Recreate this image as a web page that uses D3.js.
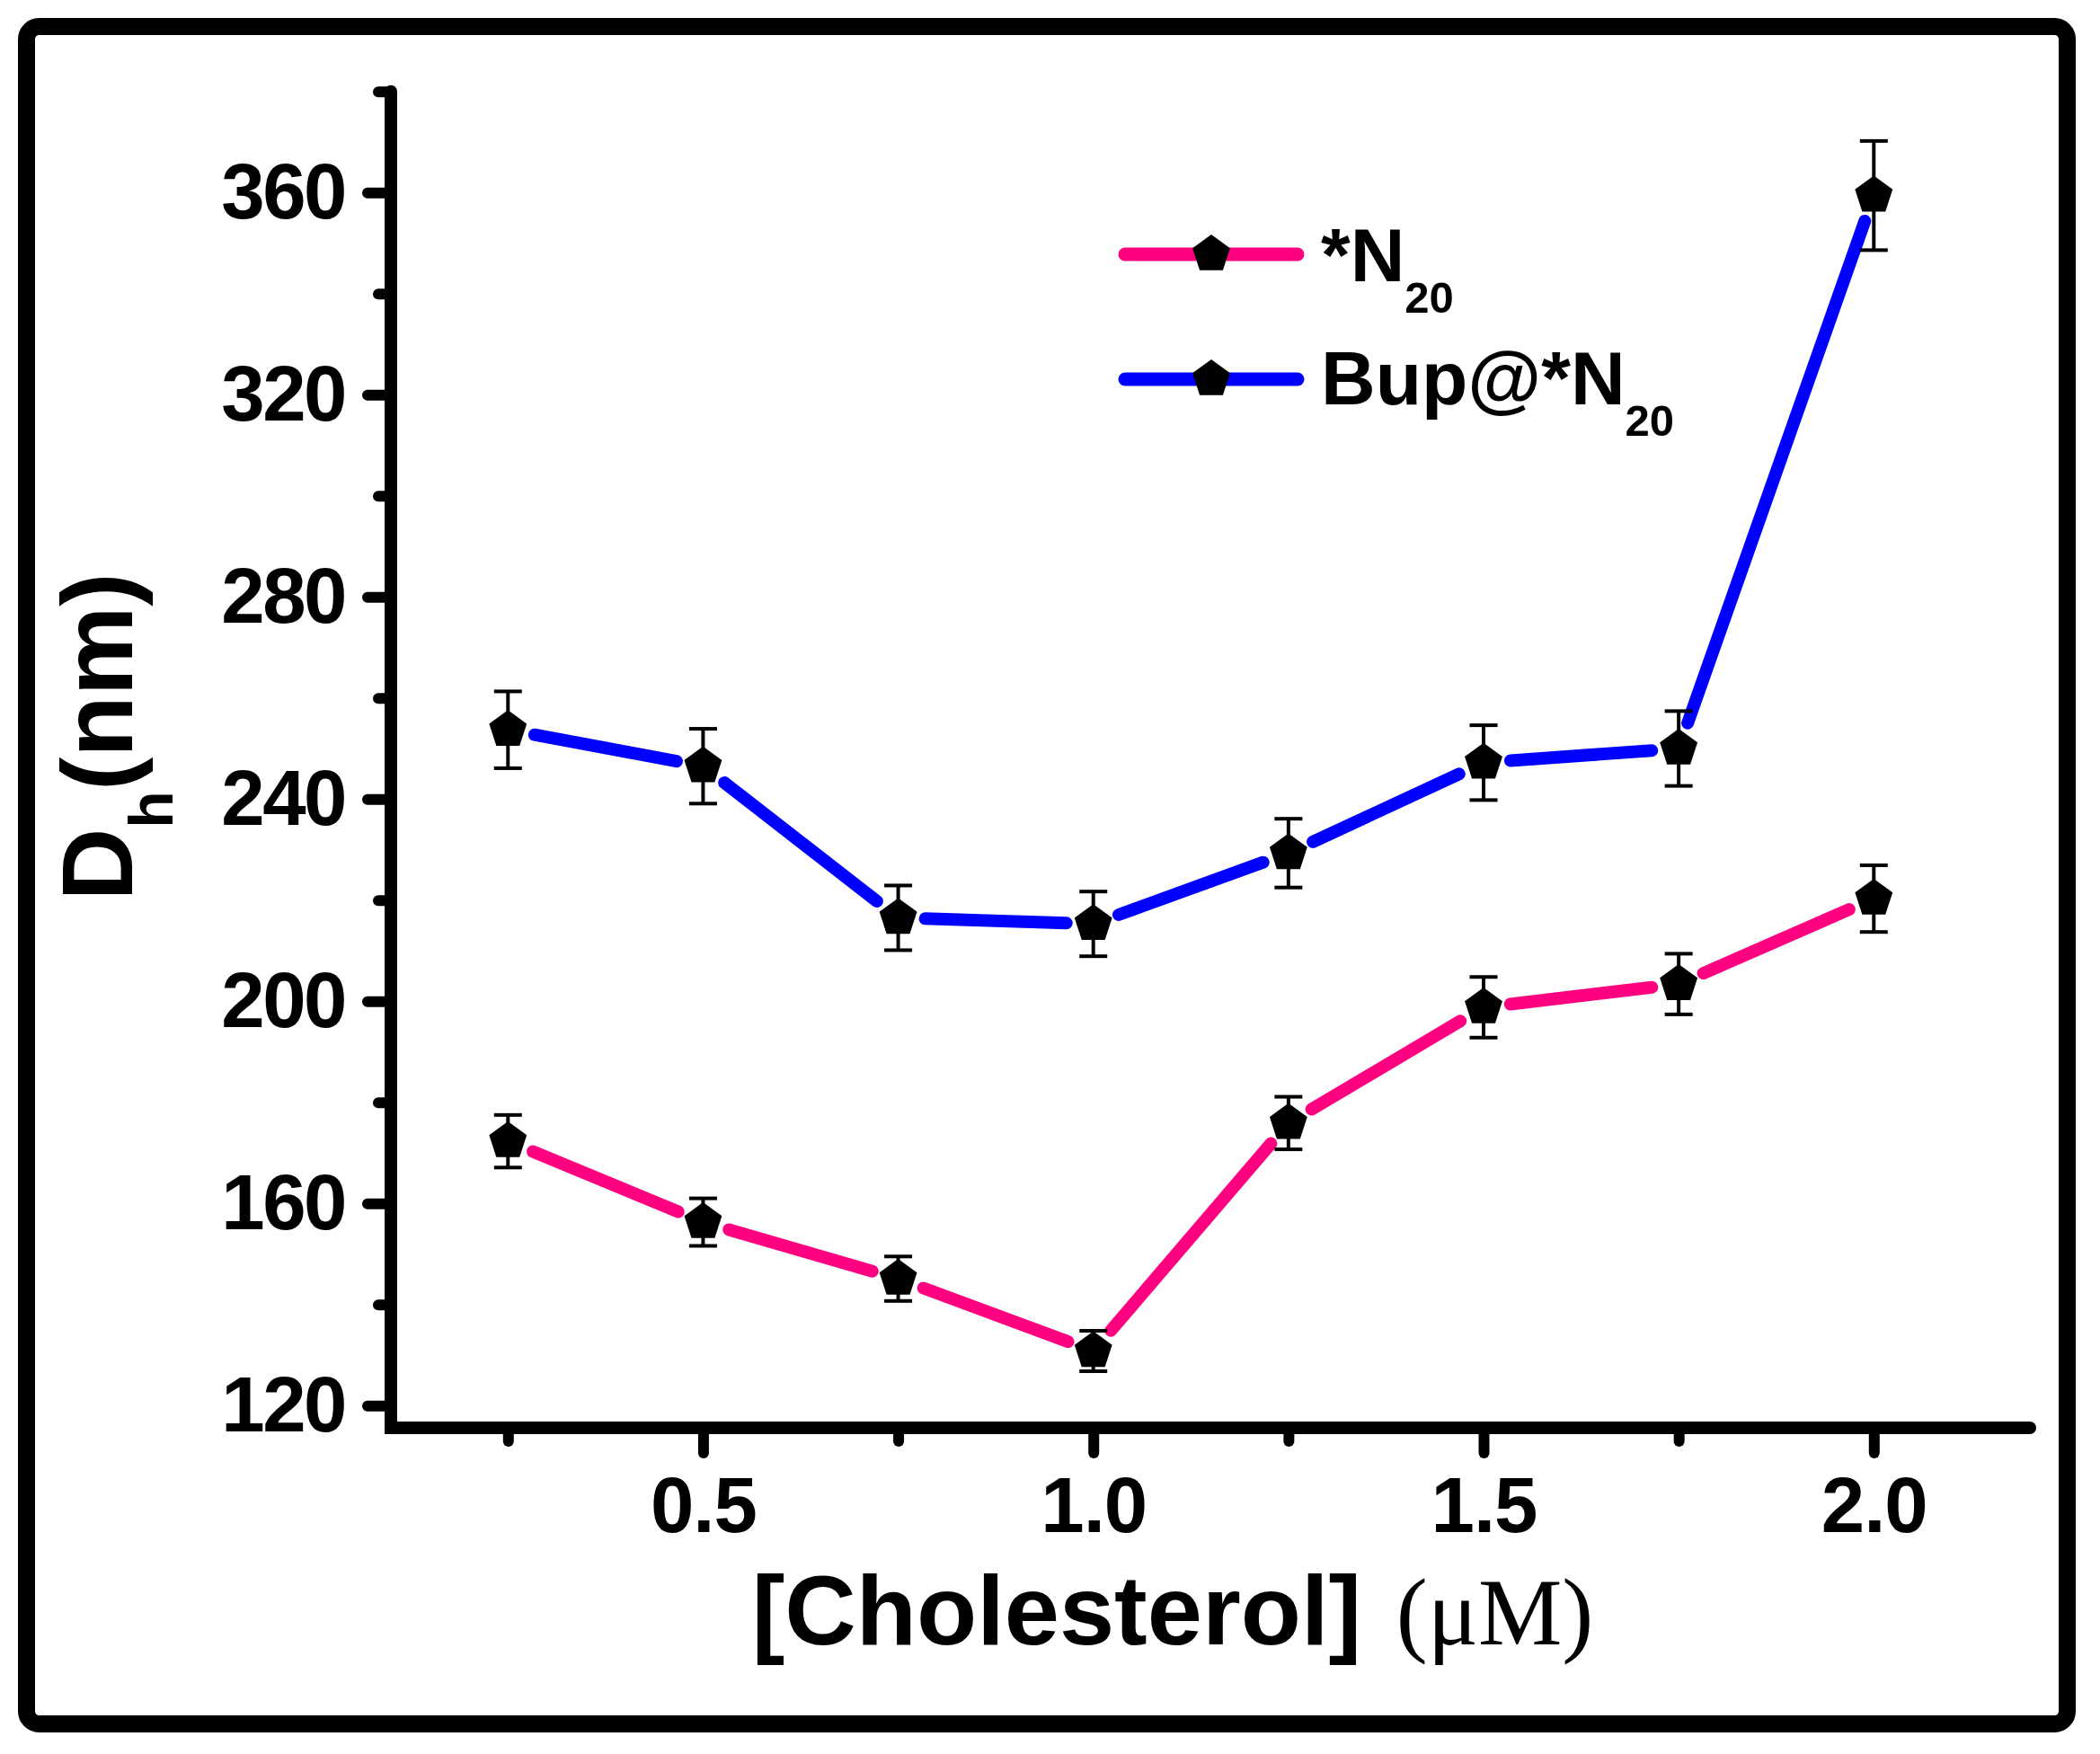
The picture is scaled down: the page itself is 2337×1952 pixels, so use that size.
<!DOCTYPE html>
<html>
<head>
<meta charset="utf-8">
<script src="https://cdn.jsdelivr.net/npm/d3@7"></script>
<style>
  body { margin: 0; background: #fff; }
  text { font-family: "Liberation Sans", Arial, sans-serif; font-weight: bold; fill: #000; }
</style>
</head>
<body>
<script>
// data
const conc = [0.25, 0.5, 0.75, 1.0, 1.25, 1.5, 1.75, 2.0];
const n20 = [172.3, 156.3, 145.1, 130.8, 175.9, 198.8, 203.4, 220.3];
const n20Err = [5.2, 4.7, 4.4, 4.0, 5.2, 6.0, 6.0, 6.6];
const bupN20 = [253.7, 246.5, 216.5, 215.3, 229.3, 247.2, 250.0, 359.4];
const bupN20Err = [7.6, 7.4, 6.4, 6.4, 6.8, 7.4, 7.4, 10.8];

const xMajor = [0.5, 1.0, 1.5, 2.0];
const xMinor = [0.25, 0.75, 1.25, 1.75];
const yMajor = [120, 160, 200, 240, 280, 320, 360];
const yMinor = [140, 180, 220, 260, 300, 340, 380];

const series = [
  {name: '*N', sub: '20', values: n20, err: n20Err, color: '#ff0080'},
  {name: 'Bup@*N', sub: '20', values: bupN20, err: bupN20Err, color: '#0000ff'}
];

const W = 2337, H = 1952;

const svg = d3.select('body')
  .append('svg')
    .attr('width', W)
    .attr('height', H);

svg.append('rect').attr('width', W).attr('height', H).attr('fill', '#fff');

// outer frame
svg.append('rect')
  .attr('x', 29.5).attr('y', 29.5)
  .attr('width', 2271).attr('height', 1889)
  .attr('rx', 14)
  .attr('fill', 'none')
  .attr('stroke', '#000')
  .attr('stroke-width', 19);

// scales
const x = d3.scaleLinear().domain([0.1, 2.2]).range([435, 2259]);
const y = d3.scaleLinear().domain([115.6, 380]).range([1589, 101.75]);

// pentagon marker as a d3 symbol type
const pentagon = {
  draw(context, size) {
    const r = Math.sqrt(size / 2.3776);
    for (let i = 0; i < 5; i++) {
      const a = -Math.PI / 2 + i * 2 * Math.PI / 5;
      const px = r * Math.cos(a), py = r * Math.sin(a);
      if (i) context.lineTo(px, py); else context.moveTo(px, py);
    }
    context.closePath();
  }
};
const marker = d3.symbol().type(pentagon).size(1151);

// axes
const x0 = x.range()[0], y0 = y.range()[0];

function styleAxis(g, size, spacing) {
  g.select('.domain').remove();
  g.selectAll('.tick line')
    .attr('stroke', '#000')
    .attr('stroke-width', 12)
    .attr('stroke-linecap', 'round');
  g.selectAll('.tick text')
    .attr('font-size', size)
    .attr('font-family', null)
    .attr('letter-spacing', spacing);
}

svg.append('g')
  .attr('transform', 'translate(' + x0 + ',0)')
  .call(d3.axisLeft(y).tickValues(yMinor).tickSize(14).tickFormat(''))
  .call(g => styleAxis(g, 87, 0));

svg.append('g')
  .attr('transform', 'translate(' + x0 + ',0)')
  .call(d3.axisLeft(y).tickValues(yMajor).tickSize(26).tickPadding(25).tickFormat(d3.format('d')))
  .call(g => styleAxis(g, 87, -2.5));

svg.append('g')
  .attr('transform', 'translate(0,' + y0 + ')')
  .call(d3.axisBottom(x).tickValues(xMinor).tickSize(15).tickFormat(''))
  .call(g => styleAxis(g, 87, 0));

svg.append('g')
  .attr('transform', 'translate(0,' + y0 + ')')
  .call(d3.axisBottom(x).tickValues(xMajor).tickSize(28).tickPadding(26).tickFormat(d3.format('.1f')))
  .call(g => styleAxis(g, 87, -1));

// axis lines
svg.append('path')
  .attr('d', 'M' + x0 + ',' + y(380) + 'V' + y0 + 'H' + x(2.2))
  .attr('fill', 'none')
  .attr('stroke', '#000')
  .attr('stroke-width', 14)
  .attr('stroke-linecap', 'round')
  .attr('stroke-linejoin', 'miter');

// data
const gap = 30;
const plot = svg.append('g').attr('class', 'plot');

series.forEach(s => {
  const pts = conc.map((c, i) => [x(c), y(s.values[i])]);

  // line segments stop short of the markers
  const segs = d3.pairs(pts).map(([a, b]) => {
    const dx = b[0] - a[0], dy = b[1] - a[1];
    const len = Math.hypot(dx, dy);
    const ux = dx / len, uy = dy / len;
    return [a[0] + ux * gap, a[1] + uy * gap, b[0] - ux * gap, b[1] - uy * gap];
  });

  plot.append('g').selectAll('line')
    .data(segs)
    .enter().append('line')
      .attr('x1', d => d[0]).attr('y1', d => d[1])
      .attr('x2', d => d[2]).attr('y2', d => d[3])
      .attr('stroke', s.color)
      .attr('stroke-width', 14)
      .attr('stroke-linecap', 'round');

  // error bars
  const eb = plot.append('g').selectAll('g')
    .data(conc.map((c, i) => ({c: c, v: s.values[i], e: s.err[i]})))
    .enter().append('g')
      .attr('stroke', '#000')
      .attr('stroke-width', 4);

  eb.append('line')
    .attr('x1', d => x(d.c)).attr('x2', d => x(d.c))
    .attr('y1', d => y(d.v - d.e)).attr('y2', d => y(d.v + d.e));
  eb.append('line')
    .attr('x1', d => x(d.c) - 15.5).attr('x2', d => x(d.c) + 15.5)
    .attr('y1', d => y(d.v + d.e)).attr('y2', d => y(d.v + d.e));
  eb.append('line')
    .attr('x1', d => x(d.c) - 15.5).attr('x2', d => x(d.c) + 15.5)
    .attr('y1', d => y(d.v - d.e)).attr('y2', d => y(d.v - d.e));

  // markers
  plot.append('g').selectAll('path')
    .data(pts)
    .enter().append('path')
      .attr('d', marker)
      .attr('fill', '#000')
      .attr('transform', d => 'translate(' + d[0] + ',' + d[1] + ')');
});

// legend
const legend = svg.append('g').attr('class', 'legend');
const leg = legend.selectAll('g')
  .data(series)
  .enter().append('g')
    .attr('transform', (d, i) => 'translate(0,' + (283 + i * 139) + ')');

leg.append('line')
  .attr('x1', 1252).attr('x2', 1444)
  .attr('stroke', d => d.color)
  .attr('stroke-width', 15)
  .attr('stroke-linecap', 'round');

leg.append('path')
  .attr('d', marker)
  .attr('fill', '#000')
  .attr('transform', 'translate(1348,0)');

const lt = leg.append('text')
  .attr('x', 1470)
  .attr('y', (d, i) => 30 - i * 2)
  .attr('font-size', 84);
lt.append('tspan').text(d => d.name);
lt.append('tspan').attr('font-size', 49).attr('dy', 35).text(d => d.sub);

// axis titles
svg.append('text')
  .attr('transform', 'translate(147,820) rotate(-90)')
  .attr('text-anchor', 'middle')
  .attr('font-size', 112)
  .call(t => {
    t.append('tspan').text('D');
    t.append('tspan').attr('font-size', 68).attr('dy', 45).text('h');
    t.append('tspan').attr('dy', -45).text('(nm)');
  });

svg.append('text')
  .attr('x', 1305)
  .attr('y', 1830)
  .attr('text-anchor', 'middle')
  .attr('font-size', 110)
  .call(t => {
    t.append('tspan').text('[Cholesterol] ');
    t.append('tspan')
      .attr('style', 'font-family: "Liberation Serif", "Times New Roman", serif; font-weight: normal;')
      .attr('font-size', 105)
      .attr('dx', 8)
      .text('(\u03bcM)');
  });
</script>
</body>
</html>
